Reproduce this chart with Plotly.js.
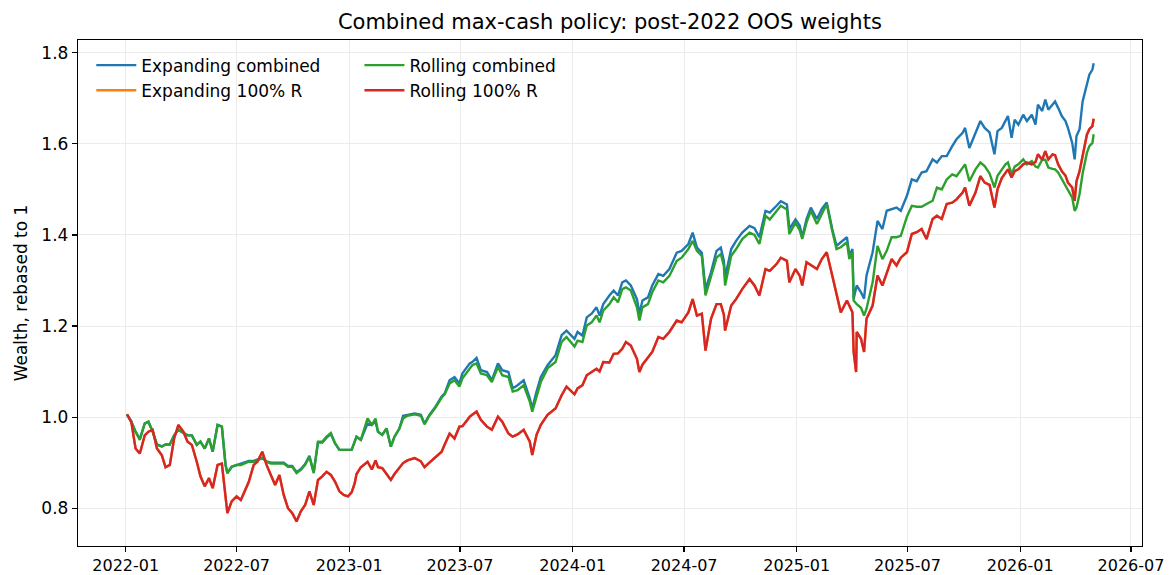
<!DOCTYPE html>
<html>
<head>
<meta charset="utf-8">
<script src="https://cdn.plot.ly/plotly-3.0.1.min.js"></script>
<style>html,body{margin:0;padding:0;background:#fff;}#chart{width:1169px;height:575px;}</style>
</head>
<body>
<div id="chart"></div>
<script>
const dates = [
"2022-01-03","2022-01-10","2022-01-17","2022-01-24","2022-02-01","2022-02-07","2022-02-14","2022-02-21","2022-03-01","2022-03-07",
"2022-03-14","2022-03-21","2022-03-28","2022-04-05","2022-04-12","2022-04-19","2022-04-27","2022-05-03","2022-05-10","2022-05-17",
"2022-05-23","2022-05-31","2022-06-07","2022-06-13","2022-06-16","2022-06-23","2022-07-01","2022-07-08","2022-07-14","2022-07-21",
"2022-07-29","2022-08-04","2022-08-12","2022-08-19","2022-08-26","2022-09-02","2022-09-09","2022-09-16","2022-09-23","2022-09-30",
"2022-10-07","2022-10-14","2022-10-21","2022-10-28","2022-11-04","2022-11-11","2022-11-18","2022-11-25","2022-12-02","2022-12-09",
"2022-12-16","2022-12-23","2022-12-30",
"2023-01-05","2023-01-10","2023-01-13","2023-01-20","2023-01-31","2023-02-07","2023-02-13","2023-02-17","2023-02-24","2023-03-03",
"2023-03-10","2023-03-16","2023-03-24","2023-03-30","2023-04-06","2023-04-18","2023-04-28","2023-05-04","2023-05-12","2023-05-22",
"2023-06-01","2023-06-06","2023-06-14","2023-06-22","2023-06-30","2023-07-05","2023-07-17","2023-07-21","2023-07-28","2023-08-04",
"2023-08-14","2023-08-22","2023-09-01","2023-09-08","2023-09-18","2023-09-25","2023-10-03","2023-10-13","2023-10-23","2023-10-27",
"2023-11-03","2023-11-10","2023-11-21","2023-12-04","2023-12-14","2023-12-22","2024-01-04",
"2024-01-09","2024-01-17","2024-01-24","2024-02-01","2024-02-09","2024-02-14","2024-02-20","2024-03-01","2024-03-08","2024-03-15",
"2024-03-22","2024-03-28","2024-04-05","2024-04-15","2024-04-19","2024-04-24","2024-05-03","2024-05-10","2024-05-20","2024-05-28",
"2024-06-07","2024-06-19","2024-06-27","2024-07-08","2024-07-15","2024-07-22","2024-07-30","2024-08-05","2024-08-14","2024-08-23",
"2024-08-30","2024-09-04","2024-09-06","2024-09-16","2024-09-24","2024-10-04","2024-10-16","2024-10-24","2024-11-01","2024-11-11",
"2024-11-18","2024-11-29","2024-12-06","2024-12-16","2024-12-20","2024-12-30","2025-01-06",
"2025-01-10","2025-01-17","2025-01-24","2025-02-03","2025-02-11","2025-02-19","2025-02-28","2025-03-07","2025-03-14","2025-03-24",
"2025-03-28","2025-04-02","2025-04-04","2025-04-08","2025-04-09","2025-04-16","2025-04-21","2025-04-25","2025-05-05","2025-05-13",
"2025-05-21","2025-05-28","2025-06-05","2025-06-13","2025-06-20","2025-06-30","2025-07-08","2025-07-16","2025-07-24","2025-08-01",
"2025-08-11","2025-08-18","2025-08-26","2025-09-03","2025-09-12","2025-09-19","2025-09-29","2025-10-03","2025-10-10","2025-10-20",
"2025-10-28","2025-11-04","2025-11-12","2025-11-20",
"2025-11-25","2025-12-02","2025-12-08","2025-12-12","2025-12-18","2025-12-23","2025-12-29","2026-01-06","2026-01-12","2026-01-20",
"2026-01-26","2026-01-30","2026-02-06","2026-02-11","2026-02-16","2026-02-23","2026-02-27","2026-03-04","2026-03-10","2026-03-16",
"2026-03-20","2026-03-27","2026-03-31","2026-04-03","2026-04-08","2026-04-13","2026-04-20","2026-04-24","2026-04-29","2026-05-01"
];

const expandingCombined = [
1.006,0.99,0.968,0.952,0.986,0.99,0.968,0.94,0.936,0.94,
0.94,0.96,0.972,0.965,0.96,0.96,0.939,0.946,0.931,0.953,
0.924,0.983,0.979,0.895,0.877,0.891,0.895,0.897,0.9,0.904,
0.904,0.907,0.911,0.903,0.9,0.9,0.9,0.9,0.893,0.893,
0.879,0.886,0.897,0.915,0.879,0.944,0.944,0.955,0.963,0.942,
0.928,0.928,0.928,
0.928,0.946,0.957,0.95,0.986,0.983,0.99,0.968,0.961,0.975,
0.935,0.957,0.975,1.003,1.005,1.008,1.005,0.986,1.005,1.023,
1.045,1.052,1.081,1.088,1.074,1.096,1.118,1.121,1.13,1.103,
1.099,1.081,1.118,1.103,1.099,1.063,1.07,1.081,1.041,1.019,
1.056,1.088,1.114,1.136,1.18,1.19,1.172,
1.187,1.179,1.219,1.227,1.241,1.223,1.248,1.267,1.278,1.267,
1.296,1.30,1.289,1.259,1.227,1.256,1.263,1.289,1.314,1.31,
1.325,1.361,1.365,1.38,1.405,1.372,1.361,1.281,1.318,1.365,
1.372,1.343,1.307,1.369,1.387,1.405,1.42,1.415,1.395,1.453,
1.449,1.464,1.474,1.467,1.413,1.434,1.42,
1.395,1.435,1.46,1.435,1.457,1.471,1.413,1.376,1.384,1.395,
1.355,1.369,1.26,1.28,1.289,1.274,1.26,1.311,1.362,1.431,
1.413,1.453,1.457,1.46,1.453,1.486,1.522,1.518,1.537,1.54,
1.566,1.559,1.573,1.573,1.595,1.61,1.624,1.635,1.591,1.624,
1.65,1.635,1.625,1.577,
1.628,1.635,1.653,1.661,1.613,1.653,1.642,1.664,1.65,1.664,
1.642,1.686,1.672,1.697,1.675,1.686,1.693,1.679,1.661,1.65,
1.635,1.602,1.566,1.617,1.632,1.693,1.73,1.752,1.763,1.777
];

const rollingCombined = [
1.006,0.99,0.968,0.95,0.986,0.99,0.968,0.939,0.935,0.94,
0.94,0.96,0.972,0.965,0.96,0.96,0.939,0.946,0.931,0.953,
0.924,0.983,0.979,0.895,0.877,0.891,0.895,0.895,0.898,0.902,
0.902,0.906,0.91,0.902,0.898,0.898,0.898,0.898,0.891,0.891,
0.877,0.884,0.895,0.913,0.877,0.946,0.946,0.957,0.965,0.942,
0.928,0.928,0.928,
0.928,0.946,0.957,0.95,0.997,0.983,0.997,0.968,0.961,0.975,
0.935,0.957,0.975,0.997,1.003,1.006,1.003,0.984,1.003,1.021,
1.043,1.05,1.074,1.081,1.067,1.085,1.107,1.114,1.118,1.096,
1.092,1.077,1.11,1.092,1.088,1.056,1.059,1.07,1.034,1.012,
1.045,1.077,1.107,1.121,1.165,1.176,1.155,
1.168,1.165,1.201,1.208,1.223,1.208,1.234,1.248,1.263,1.252,
1.281,1.285,1.278,1.241,1.212,1.241,1.248,1.274,1.30,1.296,
1.31,1.343,1.35,1.369,1.387,1.365,1.354,1.267,1.307,1.35,
1.358,1.332,1.289,1.354,1.369,1.391,1.405,1.40,1.38,1.442,
1.434,1.453,1.464,1.456,1.402,1.427,1.41,
1.391,1.427,1.453,1.424,1.446,1.468,1.409,1.369,1.373,1.384,
1.347,1.362,1.256,1.25,1.248,1.24,1.223,1.238,1.296,1.376,
1.347,1.365,1.395,1.395,1.398,1.44,1.464,1.462,1.462,1.468,
1.475,1.504,1.50,1.522,1.533,1.529,1.548,1.555,1.518,1.544,
1.559,1.551,1.535,1.504,
1.53,1.545,1.555,1.559,1.533,1.55,1.555,1.566,1.555,1.562,
1.55,1.548,1.565,1.565,1.548,1.545,1.544,1.537,1.522,1.51,
1.497,1.482,1.453,1.46,1.49,1.535,1.58,1.595,1.602,1.621
];

const rolling100R = [
1.006,0.99,0.931,0.92,0.96,0.968,0.972,0.931,0.916,0.89,
0.895,0.953,0.983,0.968,0.946,0.939,0.902,0.87,0.848,0.866,
0.844,0.895,0.898,0.822,0.789,0.815,0.826,0.818,0.837,0.858,
0.895,0.902,0.924,0.895,0.873,0.851,0.873,0.829,0.80,0.789,
0.771,0.793,0.807,0.837,0.807,0.862,0.87,0.88,0.873,0.858,
0.837,0.829,0.826,
0.835,0.855,0.875,0.89,0.902,0.885,0.905,0.89,0.888,0.875,
0.862,0.875,0.89,0.899,0.905,0.91,0.903,0.89,0.9,0.913,
0.924,0.94,0.964,0.953,0.979,0.98,1.001,1.005,1.012,0.994,
0.979,0.972,1.001,0.99,0.964,0.957,0.962,0.972,0.946,0.917,
0.961,0.983,1.005,1.019,1.048,1.067,1.05,
1.063,1.07,1.092,1.099,1.106,1.10,1.121,1.12,1.139,1.14,
1.15,1.165,1.157,1.128,1.099,1.115,1.13,1.143,1.176,1.172,
1.187,1.212,1.208,1.23,1.259,1.223,1.227,1.146,1.216,1.248,
1.248,1.225,1.19,1.245,1.259,1.281,1.303,1.289,1.267,1.325,
1.321,1.336,1.35,1.343,1.296,1.325,1.31,
1.289,1.34,1.333,1.325,1.347,1.362,1.311,1.267,1.23,1.256,
1.245,1.23,1.143,1.099,1.187,1.172,1.143,1.216,1.245,1.311,
1.289,1.318,1.347,1.333,1.35,1.362,1.402,1.406,1.413,1.391,
1.435,1.442,1.435,1.468,1.471,1.478,1.493,1.504,1.464,1.493,
1.529,1.515,1.51,1.46,
1.50,1.525,1.535,1.544,1.526,1.54,1.544,1.555,1.559,1.555,
1.56,1.577,1.565,1.584,1.566,1.577,1.575,1.555,1.54,1.53,
1.515,1.504,1.475,1.518,1.54,1.575,1.62,1.632,1.639,1.655
];

// "Expanding 100% R" coincides with "Rolling 100% R" in the reference (fully hidden beneath it)
const expanding100R = rolling100R;

const seriesNames = ["Expanding combined","Expanding 100% R","Rolling combined","Rolling 100% R"];
const seriesColors = ["#1f77b4","#ff7f0e","#2ca02c","#d62728"];
const seriesValues = [expandingCombined, expanding100R, rollingCombined, rolling100R];
const legendGroups = ["legend","legend","legend2","legend2"];

const xTickVals = ["2022-01-01","2022-07-01","2023-01-01","2023-07-01","2024-01-01","2024-07-01","2025-01-01","2025-07-01","2026-01-01","2026-07-01"];
const xTickText = ["2022-01","2022-07","2023-01","2023-07","2024-01","2024-07","2025-01","2025-07","2026-01","2026-07"];
const yTickVals = [0.8,1.0,1.2,1.4,1.6,1.8];
const yTickText = ["0.8","1.0","1.2","1.4","1.6","1.8"];

const traces = seriesNames.map((n,i)=>({
  type:"scatter", mode:"lines", name:n, x:dates, y:seriesValues[i],
  line:{color:seriesColors[i], width:2.4}, legend:legendGroups[i], hoverinfo:"skip"
}));

const font = "DejaVu Sans, sans-serif";
const legendBase = {orientation:"v", xanchor:"left", y:0.985, yanchor:"top", bgcolor:"rgba(255,255,255,0)",
  font:{family:font, size:17, color:"#000"}, itemwidth:40, tracegroupgap:0, traceorder:"normal"};
const layout = {
  width:1169, height:575,
  margin:{l:78, r:27, t:40, b:29},
  paper_bgcolor:"#fff", plot_bgcolor:"#fff",
  font:{family:font, size:17, color:"#000"},
  title:{text:"Combined max-cash policy: post-2022 OOS weights", font:{family:font, size:21, color:"#000"}, x:0.5217, xanchor:"center", y:0.962, yanchor:"middle"},
  showlegend:true,
  legend:Object.assign({}, legendBase, {x:0.0125}),
  legend2:Object.assign({}, legendBase, {x:0.2645}),
  xaxis:{type:"date", range:["2021-10-15","2026-07-19"], tickvals:xTickVals, ticktext:xTickText,
    showgrid:true, gridcolor:"#ebebeb", gridwidth:1, zeroline:false,
    showline:true, linecolor:"#000", linewidth:1.2, mirror:true,
    ticks:"outside", ticklen:5, tickwidth:1.2, tickcolor:"#000", tickfont:{family:font, size:16}},
  yaxis:{range:[0.717,1.828], tickvals:yTickVals, ticktext:yTickText,
    showgrid:true, gridcolor:"#ebebeb", gridwidth:1, zeroline:false,
    showline:true, linecolor:"#000", linewidth:1.2, mirror:true,
    ticks:"outside", ticklen:5, tickwidth:1.2, tickcolor:"#000", tickfont:{family:font, size:17},
    title:{text:"Wealth, rebased to 1", font:{family:font, size:17}, standoff:9}}
};
Plotly.newPlot("chart", traces, layout, {staticPlot:true});
</script>
</body>
</html>
